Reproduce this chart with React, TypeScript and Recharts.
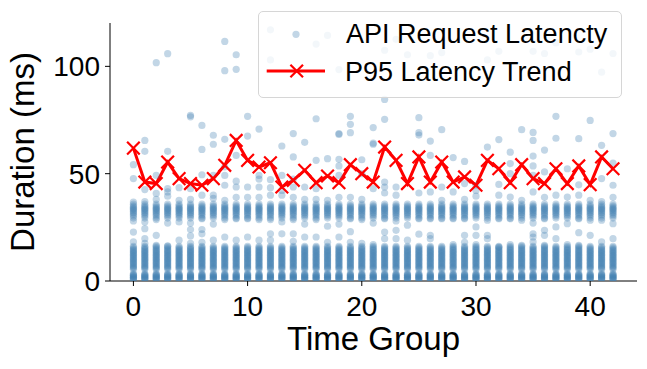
import React from 'react';
import { ComposedChart, Scatter, Line, XAxis, YAxis, Label } from 'recharts';

const timeGroups = [
  0, 1, 2, 3, 4, 5, 6, 7, 8, 9, 10, 11, 12, 13, 14, 15, 16, 17, 18, 19, 20, 21,
  22, 23, 24, 25, 26, 27, 28, 29, 30, 31, 32, 33, 34, 35, 36, 37, 38, 39, 40, 41, 42,
];

// P95 per group (ms)
const p95Latency = [
  61.9, 46.1, 45.4, 55.4, 47.7, 45.4, 44.6, 47.7, 53.9, 65.5, 56.2, 53.1, 55.1, 43.8,
  46.9, 51.6, 45.8, 48.9, 45.8, 54.2, 50.0, 46.1, 62.4, 56.2, 45.4, 57.8, 46.1, 55.4,
  46.1, 48.5, 44.6, 56.2, 52.3, 45.8, 54.2, 47.7, 45.4, 52.3, 45.4, 53.6, 44.9, 57.8, 52.3,
];

// dense fast-request band seen in every group
const lowBandMs = [
  0.6, 0.9, 1.2, 1.5, 1.8, 2.1, 2.4, 2.7, 3.0, 3.4,
  5.5, 6.0, 6.5, 7.0, 7.5, 8.0, 8.5, 9.0, 9.5, 10.0, 10.5, 11.0,
  11.5, 12.0, 12.5, 13.0, 13.5, 14.0, 14.5, 15.0, 15.6, 16.2,
];
// second cluster around 30-36 ms, also in every group
const midBandMs = [29.3, 30.3, 31.0, 31.7, 32.3, 32.9, 33.4, 33.9, 34.4, 35.0, 35.8];

// what each group has on top of the two bands
const extraMs = [
  [18.2, 22.8, 28, 36.8, 47.7, 54.2],
  [17.5, 19.7, 24.4, 27.5, 37, 42.6, 60.4, 65.5],
  [16.6, 21.3, 28.6, 38, 40.8, 49.2, 101.7],
  [16.4, 27, 39.5, 41.5, 43, 60.4, 105.9],
  [19, 27.5, 37.6, 43.5],
  [17.5, 21, 24, 27, 38, 43, 76.5, 77.2],
  [18, 22, 24, 29, 40, 49.5, 61.3, 72.5],
  [19, 26.5, 38.5, 40, 49.2, 63.7, 67.9],
  [20.5, 28.6, 37.6, 44.6, 49.2, 53.1, 66, 98, 111.6],
  [19, 29, 39, 43.8, 46.5, 58.5, 98.6, 105.4],
  [20.5, 29, 39, 43.8, 67.5, 76.7],
  [19, 28.6, 39, 43.8, 47.5, 49.2, 70.8],
  [19, 22, 28.6, 40, 43.5, 47.2, 103, 117],
  [22, 27.5, 40, 42.2, 49.2, 62.9],
  [18.5, 22, 28.6, 39, 43.8, 47.5, 57.8, 68.7],
  [20.5, 26.5, 38, 43.8, 64.6],
  [20.5, 28.6, 38, 43, 56.2, 75.6, 110.4],
  [18, 25.5, 37.6, 57, 114.4],
  [20.5, 26.5, 39, 49.2, 53.6, 56.7, 68.3, 68.7, 98.5],
  [18, 23, 29, 39, 69.1, 73, 76.7],
  [17.5, 28.6, 38, 50, 56.5],
  [17, 27, 43, 63.7, 64.2, 71.5],
  [19.7, 22.8, 29, 41, 43.8, 46.1, 75.3, 84.6, 107.5],
  [19.7, 23.6, 28, 40, 43.8, 112.6],
  [19, 26, 105.4],
  [21.8, 29, 41, 68, 69.1, 76.1],
  [19.7, 21.3, 29, 41.5, 58.5, 65.2, 105],
  [29, 37.6, 43.8, 70.5, 106.4],
  [17, 29, 41.5, 57.5],
  [18, 21.3, 29, 38, 45.4, 55.7],
  [17, 21.3, 25.2, 39.5, 42.2, 44.6],
  [19.7, 21.3, 28.3, 62.4, 103],
  [15.8, 29, 40, 45, 65.9, 107],
  [17, 29, 39.1, 50, 54.7, 60],
  [16.6, 28.3, 37.6, 70.5],
  [18.2, 20.5, 22, 27, 41.5, 49.2, 53.6, 58.2, 65.5, 69.2, 107],
  [16.6, 21.3, 23.6, 29, 39, 50.8, 61, 106],
  [19.7, 25.2, 40, 66.5, 76.7, 110.9],
  [17, 26.7, 39.1, 52.3],
  [16.6, 22.5, 29, 40, 44.8, 66.3, 106.7],
  [21.3, 28.3, 37.6, 74.8, 108],
  [18.2, 28.3, 37, 47.7, 63.2, 97.3],
  [19.7, 26.7, 39, 44.6, 54.9, 68.7, 106],
];

const xTicks = [0, 10, 20, 30, 40];
const yTicks = [0, 50, 100];

const FONT = '"Liberation Sans", Arial, Helvetica, sans-serif';
const BLUE = '#4682b4';
const RED = '#ff0000';

const requests = timeGroups.flatMap((g, i) =>
  [...lowBandMs, ...midBandMs, ...extraMs[i]].map((v) => ({ x: g, y: v }))
);
const trend = timeGroups.map((g, i) => ({ x: g, y: p95Latency[i] }));

const Dot = (props: any) => (
  <circle cx={props.cx} cy={props.cy} r={3.6} fill={BLUE} fillOpacity={0.33} />
);

const XMark = (props: any) => {
  const { cx, cy, index } = props;
  const s = 6.3;
  return (
    <path
      key={`xm-${index}`}
      d={`M${cx - s},${cy - s}L${cx + s},${cy + s}M${cx - s},${cy + s}L${cx + s},${cy - s}`}
      stroke={RED}
      strokeWidth={2.2}
      fill="none"
    />
  );
};

export default function App() {
  return (
    <div style={{ position: 'absolute', left: 0, top: 0, width: 647, height: 369, background: '#fff', fontFamily: FONT }}>
      <ComposedChart width={647} height={369} margin={{ top: 23, right: 10, bottom: 0, left: 0 }}>
        <XAxis
          type="number"
          dataKey="x"
          domain={[-2.05, 44.1]}
          allowDataOverflow
          ticks={xTicks}
          height={88}
          tickSize={5}
          tickMargin={10}
          stroke="#000"
          tick={{ fontSize: 28, fill: '#000', fontFamily: FONT }}
        >
          <Label
            content={() => (
              <text x={373.5} y={350} textAnchor="middle" fontSize={33} fill="#000" fontFamily={FONT}>
                Time Group
              </text>
            )}
          />
        </XAxis>
        <YAxis
          type="number"
          dataKey="y"
          domain={[0, 120.2]}
          allowDataOverflow
          ticks={yTicks}
          width={110}
          tickSize={5}
          tickMargin={5}
          stroke="#000"
          tick={{ fontSize: 28, fill: '#000', fontFamily: FONT }}
        >
          <Label
            content={() => (
              <text
                x={34}
                y={152}
                transform="rotate(-90, 34, 152)"
                textAnchor="middle"
                fontSize={33}
                fill="#000"
                fontFamily={FONT}
              >
                Duration (ms)
              </text>
            )}
          />
        </YAxis>
        <Scatter data={requests} dataKey="y" shape={Dot} isAnimationActive={false} />
        <Line
          data={trend}
          dataKey="y"
          type="linear"
          stroke={RED}
          strokeWidth={3}
          dot={XMark}
          activeDot={false}
          isAnimationActive={false}
        />
      </ComposedChart>

      {/* legend, semi-opaque like matplotlib's framealpha */}
      <div
        style={{
          position: 'absolute',
          left: 258,
          top: 11,
          width: 364,
          height: 87,
          boxSizing: 'border-box',
          border: '1px solid #d6d6d6',
          borderRadius: 5,
          background: 'rgba(255,255,255,0.8)',
        }}
      >
        <svg width={364} height={87} style={{ position: 'absolute', left: -1, top: -1 }}>
          <circle cx={38} cy={23.3} r={3.6} fill={BLUE} fillOpacity={0.33} />
          <text x={88} y={31.7} fontSize={27} fill="#000" fontFamily={FONT}>
            API Request Latencty
          </text>
          <line x1={8.7} y1={60} x2={67} y2={60} stroke={RED} strokeWidth={3} />
          <path d="M32.4,53.7L45,66.3M32.4,66.3L45,53.7" stroke={RED} strokeWidth={2.2} fill="none" />
          <text x={87} y={70} fontSize={27} fill="#000" fontFamily={FONT}>
            P95 Latency Trend
          </text>
        </svg>
      </div>
    </div>
  );
}
